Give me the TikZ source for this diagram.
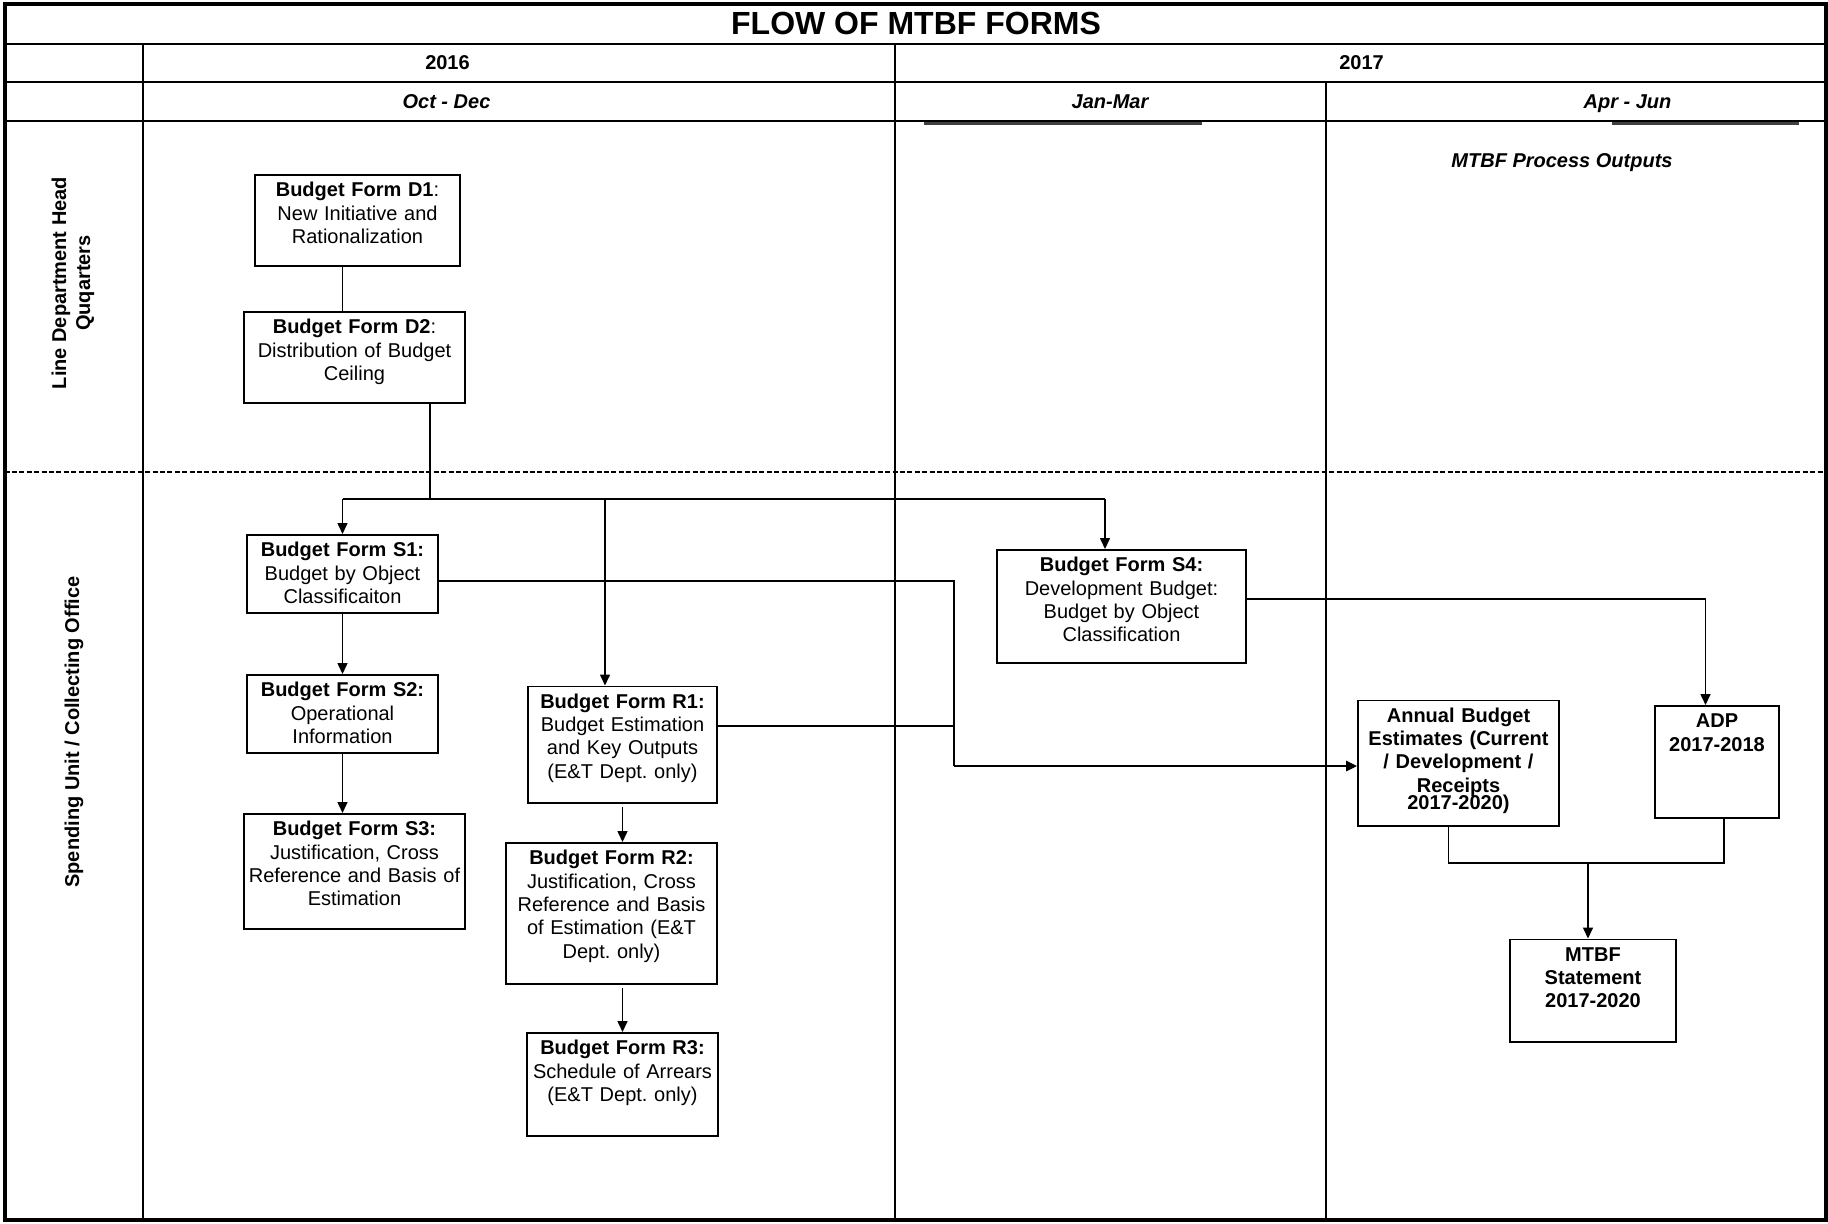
\documentclass[tikz,border=0pt]{standalone}
\usepackage{fontspec}
\setmainfont{Liberation Sans}
\usetikzlibrary{arrows.meta}

\begin{document}
\begin{tikzpicture}[x=0.5pt,y=-0.5pt,>={Triangle[length=5.5pt,width=5pt]}]

    \tikzset{form/.style={draw, line width=0.8pt, anchor=north, align=center,
      inner xsep=0pt, inner ysep=3pt, text height=8pt,
      font=\fontsize{10}{11.65}\selectfont}}
    \tikzstyle{head}=[font=\bfseries\fontsize{10}{12}\selectfont, text height=7.2pt, text depth=0pt]
    \tikzstyle{quarter}=[font=\bfseries\itshape\fontsize{10}{12}\selectfont, text height=7.2pt, text depth=0pt]
    \tikzstyle{link}=[line width=0.75pt]

    \useasboundingbox (0,0) rectangle (1828,1223);

    % FRAME AND GRID
    \draw[line width=2pt] (4.5,3.5) rectangle (1826,1220);
    \draw[line width=1pt] (4.5,44) -- (1826,44);
    \draw[line width=1pt] (4.5,82) -- (1826,82);
    \draw[line width=1.3pt] (4.5,121) -- (1826,121);
    \draw[line width=1pt] (143,44) -- (143,1220);
    \draw[line width=1pt] (895,44) -- (895,1220);
    \draw[line width=1pt] (1325.5,82) -- (1325.5,1220);
    \draw[line width=1pt, dash pattern=on 2.5pt off 1.2pt] (4.5,472) -- (1826,472);
    %\draw[red] (924,124) -- (1202,124);
    \draw[line width=1.1pt, black!75] (924,123.5) -- (1202,123.5);
    \draw[line width=1.1pt, black!75] (1612,123.5) -- (1799,123.5);

    % HEADINGS
    \node (title) at (916,23) [font=\bfseries\fontsize{16}{18}\selectfont] {FLOW OF MTBF FORMS};
    \node (y16) at (447.5,62) [head] {2016};
    \node (y17) at (1361.5,62) [head] {2017};
    \node (q1) at (446.5,101.5) [quarter] {Oct - Dec};
    \node (q2) at (1110,101.5) [quarter] {Jan-Mar};
    \node (q3) at (1627.5,101.5) [quarter] {Apr - Jun};
    \node (outputs) at (1562,160) [quarter] {MTBF Process Outputs};

    % LANES
    \node (lane1) at (73,283) [font=\bfseries\fontsize{10}{12}\selectfont, rotate=90, align=center] {Line Department Head\\Quqarters};
    \node (lane2) at (72,732) [head, rotate=90] {Spending Unit / Collecting Office};

    % HEAD QUARTERS FORMS
    \node (d1) at (357.5,174) [form, text width=102.5pt, text depth=31.5pt] {\textbf{Budget Form D1}:\\New Initiative and\\Rationalization};
    \node (d2) at (354.5,311) [form, text width=110.5pt, text depth=31.5pt] {\textbf{Budget Form D2}:\\Distribution of Budget\\Ceiling};

    % SPENDING UNIT FORMS
    \node (s1) at (342.5,534) [form, text width=95.5pt, text depth=25pt] {\textbf{Budget Form S1:}\\Budget by Object\\Classificaiton};
    \node (s2) at (342.5,674) [form, text width=95.5pt, text depth=25pt] {\textbf{Budget Form S2:}\\Operational\\Information};
    \node (s3) at (354.5,813) [form, text width=110.5pt, text depth=43.5pt] {\textbf{Budget Form S3:}\\Justification, Cross\\Reference and Basis of\\Estimation};
    \node (r1) at (622.5,685.5) [form, text width=94.5pt, text depth=44.25pt] {\textbf{Budget Form R1:}\\Budget Estimation\\and Key Outputs\\(E\&T Dept.\ only)};
    \node (r2) at (611.5,842) [form, text width=105.5pt, text depth=56.5pt] {\textbf{Budget Form R2:}\\Justification, Cross\\Reference and Basis\\of Estimation (E\&T\\Dept.\ only)};
    \node (r3) at (622.5,1032) [form, text width=95.5pt, text depth=37.5pt] {\textbf{Budget Form R3:}\\Schedule of Arrears\\(E\&T Dept.\ only)};
    \node (s4) at (1121.5,549) [form, text width=124.5pt, text depth=42.5pt] {\textbf{Budget Form S4:}\\Development Budget:\\Budget by Object\\Classification};

    % OUTPUTS
    \node (abe) at (1458.5,699.5) [form, text width=100.5pt, text depth=48.75pt, font=\bfseries\fontsize{10}{11.65}\selectfont] {Annual Budget\\Estimates (Current\\/ Development /\\Receipts\\[-3pt]2017-2020)};
    \node (adp) at (1717,705) [form, text width=61.75pt, text depth=42pt, font=\bfseries\fontsize{10}{11.65}\selectfont] {ADP\\2017-2018};
    \node (mtbf) at (1593,938.5) [form, text width=83pt, text depth=37.25pt, font=\bfseries\fontsize{10}{11.65}\selectfont] {MTBF\\Statement\\2017-2020};

    % CONNEXIONS
    %D1 to D2 and ceiling bus
    \draw[link] (d1.south -| s2.north) -- (d2.north -| s2.north);
    \coordinate (bus) at (430,499);
    \coordinate (colr) at (605,499);
    \coordinate (cols) at (1105,499);
    \draw[link] (d2.south -| bus) -- (bus);
    \draw[link] (bus -| s1.north) -- (cols);
    \draw[link,->] (bus -| s1.north) -- (s1.north);
    \draw[link,->] (colr) -- (colr |- r1.north);
    \draw[link,->] (cols) -- (cols |- s4.north);

    %chains of forms
    \draw[link,->] (s1.south) -- (s2.north);
    \draw[link,->] (s2.south) -- (s2.south |- s3.north);
    \draw[link,->,shorten <=1.5pt] (r1.south) -- (r1.south |- r2.north);
    \draw[link,->,shorten <=1.5pt] (r2.south -| r1.south) -- (r3.north -| r1.south);

    %to annual budget estimates
    \coordinate (m1) at (954,581);
    \coordinate (m2) at (954,726);
    \coordinate (m3) at (954,766);
    \draw[link] (s1.east |- m1) -- (m1) -- (m3);
    \draw[link] (r1.east |- m2) -- (m2);
    \draw[line width=1.3pt,->] (m3) -- (m3 -| abe.west);

    %to ADP
    \coordinate (m4) at (1705.5,599);
    \draw[link,->] (s4.east |- m4) -- (m4) -- (m4 |- adp.north);

    %to MTBF statement
    \coordinate (j) at (1588,863);
    \draw[link] ([xshift=-5pt]abe.south) |- (j) -| ([xshift=3.5pt]adp.south);
    \draw[link,->] (j) -- (j |- mtbf.north);

\end{tikzpicture}
\end{document}
